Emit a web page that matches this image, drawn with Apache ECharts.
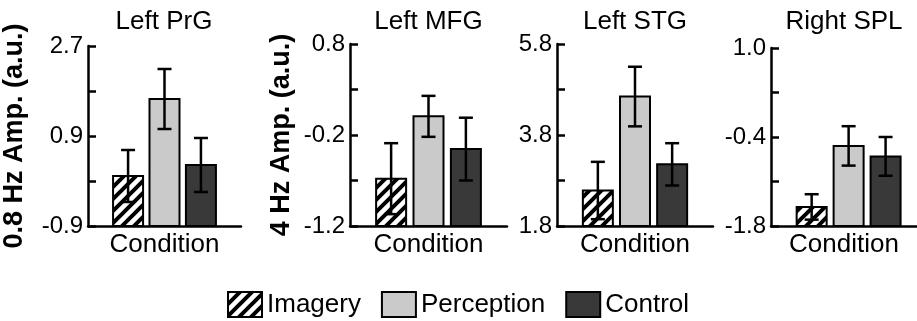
<!DOCTYPE html>
<html>
<head>
<meta charset="utf-8">
<script src="https://cdn.jsdelivr.net/npm/echarts@6/dist/echarts.min.js"></script>
<style>
  html, body { margin: 0; padding: 0; background: #fff; }
  #main { width: 917px; height: 321px; }
</style>
</head>
<body>
<div id="main"></div>
<script>
var regions = ['Left PrG', 'Left MFG', 'Left STG', 'Right SPL'];
var conditions = ['Imagery', 'Perception', 'Control'];
var condX = [1, 2, 3];

// mean and error (half length of the whisker) per region
var prgMean = [0.10, 1.64, 0.32];
var prgErr = [0.52, 0.60, 0.54];
var mfgMean = [-0.68, 0.005, -0.355];
var mfgErr = [0.39, 0.225, 0.345];
var stgMean = [2.58, 4.645, 3.155];
var stgErr = [0.63, 0.655, 0.465];
var splMean = [-1.50, -0.54, -0.705];
var splErr = [0.20, 0.31, 0.305];

var yMin = [-0.9, -1.2, 1.8, -1.8];
var yMax = [2.7, 0.8, 5.8, 1.0];
var yNames = ['0.8 Hz Amp. (a.u.)', '4 Hz Amp. (a.u.)', '', ''];

var means = [prgMean, mfgMean, stgMean, splMean];
var errs = [prgErr, mfgErr, stgErr, splErr];

(function(){
  var font = "'Liberation Sans', Arial, sans-serif";

  // hatch pattern for imagery
  var c = document.createElement('canvas');
  var s = 12;
  c.width = s; c.height = s;
  var g = c.getContext('2d');
  g.fillStyle = '#fff';
  g.fillRect(0, 0, s, s);
  g.strokeStyle = '#000';
  g.lineWidth = 4;
  g.beginPath();
  g.moveTo(0, s); g.lineTo(s, 0);
  g.moveTo(-s / 2, s / 2); g.lineTo(s / 2, -s / 2);
  g.moveTo(s / 2, s * 1.5); g.lineTo(s * 1.5, s / 2);
  g.stroke();
  var hatch = { image: c, repeat: 'repeat' };

  var fills = [hatch, '#cacaca', '#393939'];

  // grid placement
  var gLeft = [87, 350, 557, 771];
  var gRight = [241, 507, 713, 917];
  var gTop = [46, 44, 44, 48];
  var xMax = [4.1, 4.1, 4.1, 3.85];

  var grids = [], xAxes = [], yAxes = [], titles = [], series = [];

  for (var i = 0; i < 4; i++) {
    grids.push({ left: gLeft[i], width: gRight[i] - gLeft[i], top: gTop[i], bottom: 95 });
    titles.push({
      text: regions[i],
      left: (gLeft[i] + gRight[i]) / 2,
      top: 9,
      textAlign: 'center',
      padding: 0,
      textStyle: { fontFamily: font, fontSize: 26, fontWeight: 'normal', color: '#000' }
    });
    xAxes.push({
      gridIndex: i, type: 'value', min: -0.1, max: xMax[i],
      name: 'Condition', nameLocation: 'middle', nameGap: 6,
      nameTextStyle: { fontFamily: font, fontSize: 26, color: '#000' },
      axisLine: { onZero: false, lineStyle: { color: '#000', width: 2.5 } },
      axisTick: { show: false }, axisLabel: { show: false }, splitLine: { show: false }
    });
    yAxes.push({
      gridIndex: i, type: 'value', min: yMin[i], max: yMax[i],
      interval: (yMax[i] - yMin[i]) / 4,
      name: yNames[i], nameLocation: 'middle', nameGap: i === 0 ? 60 : 55,
      nameTextStyle: { fontFamily: font, fontSize: 27, fontWeight: 'bold', color: '#000' },
      axisLine: { show: true, onZero: false, lineStyle: { color: '#000', width: 2.5 } },
      axisTick: { show: true, inside: true, length: 8, lineStyle: { color: '#000', width: 2.5 } },
      axisLabel: {
        fontFamily: font, fontSize: 24, color: '#000', margin: 5,
        formatter: function (v, idx) { return idx % 2 === 0 ? v.toFixed(1) : ''; }
      },
      splitLine: { show: false }
    });
    for (var k = 0; k < 3; k++) {
      series.push({
        type: 'custom',
        name: conditions[k],
        xAxisIndex: i, yAxisIndex: i,
        itemStyle: { color: fills[k], borderColor: '#000', borderWidth: 2 },
        data: [[condX[k], means[i][k], errs[i][k]]],
        renderItem: (function (fill) {
          return function (params, api) {
            var x = api.value(0), m = api.value(1), e = api.value(2);
            var top = api.coord([x, m]);
            var base = params.coordSys.y + params.coordSys.height;
            var hi = api.coord([x, m + e]);
            var lo = api.coord([x, m - e]);
            var bw = 30, cap = 7;
            return {
              type: 'group',
              children: [
                { type: 'rect', shape: { x: top[0] - bw / 2, y: top[1], width: bw, height: base - top[1] },
                  style: { fill: fill, stroke: '#000', lineWidth: 2 } },
                { type: 'line', shape: { x1: hi[0], y1: hi[1], x2: lo[0], y2: lo[1] },
                  style: { stroke: '#000', lineWidth: 2.5 } },
                { type: 'line', shape: { x1: hi[0] - cap, y1: hi[1], x2: hi[0] + cap, y2: hi[1] },
                  style: { stroke: '#000', lineWidth: 2.5 } },
                { type: 'line', shape: { x1: lo[0] - cap, y1: lo[1], x2: lo[0] + cap, y2: lo[1] },
                  style: { stroke: '#000', lineWidth: 2.5 } }
              ]
            };
          };
        })(fills[k])
      });
    }
  }

  var myChart = echarts.init(document.getElementById('main'), null, { renderer: 'canvas' });
  myChart.setOption({
    animation: false,
    title: titles,
    grid: grids,
    xAxis: xAxes,
    yAxis: yAxes,
    legend: {
      left: 222, top: 286,
      itemWidth: 34, itemHeight: 25, itemGap: 20,
      textStyle: { fontFamily: font, fontSize: 26, color: '#000' },
      data: conditions.map(function (n, k) {
        return { name: n, icon: 'rect', itemStyle: { color: fills[k], borderColor: '#000', borderWidth: 2 } };
      })
    },
    series: series
  });
})();
</script>
</body>
</html>
